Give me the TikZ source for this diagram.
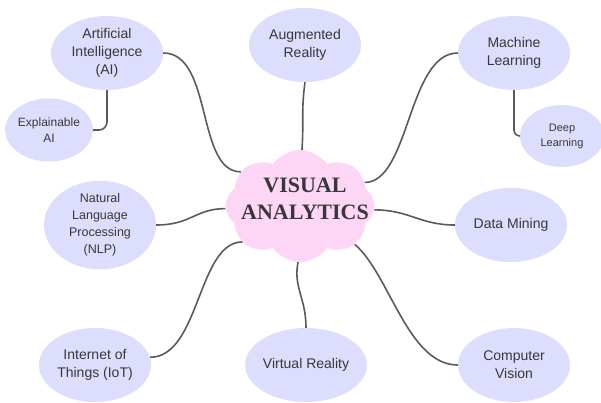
\documentclass[tikz,border=0pt]{standalone}
\usepackage{fontspec}
\setmainfont{Liberation Sans}
\newfontfamily\hubfont{Liberation Serif}
\usepackage{xcolor}
\usetikzlibrary{shapes.geometric, shapes.symbols, positioning, backgrounds}

\definecolor{lavender}{HTML}{DDDDFD}
\definecolor{candy}{HTML}{FDD5F5}
\definecolor{ink}{HTML}{383838}
\definecolor{wire}{HTML}{5A5A5A}

\begin{document}
\begin{tikzpicture}[
  x=1pt, y=-1pt,
  topic/.style={
    ellipse, fill=lavender, inner sep=0pt,
    minimum width=112pt, minimum height=74pt,
    align=center, text=ink,
    font=\fontsize{14}{18}\selectfont},
  subtopic/.style={
    topic, minimum width=86pt, minimum height=63pt,
    font=\fontsize{12}{16}\selectfont},
  hub/.style={
    cloud, cloud puffs=8, cloud puff arc=110,
    cloud ignores aspect, fill=candy, inner sep=0pt,
    minimum width=149pt, minimum height=112pt},
  hubtext/.style={
    align=center, text=ink, inner sep=0pt,
    font=\hubfont\bfseries\fontsize{22}{27}\selectfont},
  link/.style={draw=wire, line width=1.6pt}
]
\useasboundingbox (0,0) rectangle (601,403);

%% Central idea
\node[hub] (va) at (300,206) {};
\node[hubtext] (vatext) at (305,199) {VISUAL\\ANALYTICS};

%% Topics around it
\node[topic]  (ai)  at (107,53)  {Artificial\\Intelligence\\(AI)};
\node[subtopic] (xai) at (49,130) {Explainable\\AI};
\node[topic]  (ar)  at (305,45)  {Augmented\\Reality};
\node[topic]  (ml)  at (514,53)  {Machine\\Learning};
\node[subtopic, minimum width=84pt, minimum height=62pt,
      font=\fontsize{11}{15}\selectfont] (dl) at (562,136) {Deep\\Learning};
\node[topic, minimum height=78pt,
      font=\fontsize{12.5}{17}\selectfont] (nlp) at (100,225)
  {Natural\\Language\\Processing\\(NLP)};
\node[topic]  (dm)  at (511,225) {Data Mining};
\node[topic]  (iot) at (95,365)  {Internet of\\Things (IoT)};
\node[topic]  (vr)  at (306,365) {Virtual Reality};
\node[topic]  (cv)  at (514,365) {Computer\\Vision};

%% Branches
\begin{scope}[on background layer]
  \draw[link] (ai.east) .. controls +(50,0) and +(-45,0) .. (va.150);
  \draw[link, rounded corners=8pt] (ai.south) |- (xai.east);
  \draw[link] (ar.south) .. controls +(-4,30) and +(2,-30) .. (va.88);
  \draw[link] (ml.west) .. controls +(-50,0) and +(45,0) .. (va.20);
  \draw[link, rounded corners=6pt] (ml.south) |- (dl.west);
  \draw[link] (nlp.east) .. controls +(35,0) and +(-30,0) .. (va.182);
  \draw[link] (va.-3) .. controls +(35,0) and +(-35,0) .. (dm.west);
  \draw[link] (iot.8) .. controls +(50,0) and +(-45,0) .. (va.212);
  \draw[link] (va.268) .. controls +(-5,25) and +(0,-30) .. (vr.north);
  \draw[link] (va.-35) .. controls +(35,30) and +(-50,0) .. (cv.west);
\end{scope}

\end{tikzpicture}
\end{document}
